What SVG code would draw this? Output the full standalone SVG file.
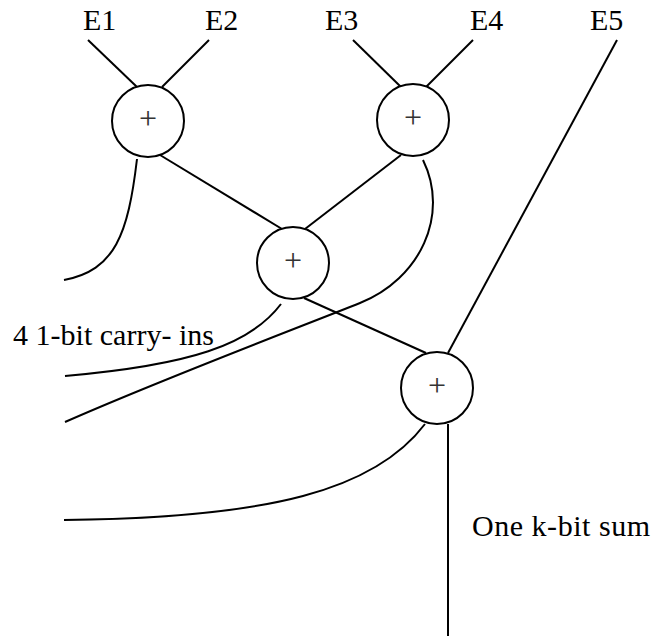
<svg xmlns="http://www.w3.org/2000/svg" width="651" height="640" viewBox="0 0 651 640">
  <style>
    .wire { fill: none; stroke: #000; stroke-width: 2; }
    .adder circle { fill: #fff; stroke: #000; stroke-width: 2; }
    .adder text { font-family: "Liberation Serif", "Times New Roman", serif; font-size: 32px; fill: #333; text-anchor: middle; }
    .label { font-family: "Liberation Serif", "Times New Roman", serif; font-size: 30px; fill: #000; }
  </style>
  <rect width="651" height="640" fill="#fff"/>

  <!-- connectors -->
  <g id="connectors">
    <!-- inputs -->
    <line class="wire" x1="88" y1="40" x2="137" y2="87"/>
    <line class="wire" x1="209" y1="40" x2="162" y2="87"/>
    <line class="wire" x1="353" y1="40" x2="401" y2="87"/>
    <line class="wire" x1="473" y1="40" x2="426" y2="87"/>
    <line class="wire" x1="617" y1="40" x2="448" y2="353"/>
    <!-- adder tree -->
    <line class="wire" x1="160" y1="155" x2="282" y2="229"/>
    <line class="wire" x1="401" y1="155" x2="305" y2="229"/>
    <line class="wire" x1="304" y1="298" x2="426" y2="353"/>
    <!-- carry-ins -->
    <path class="wire" d="M137,159 C128,235 115,270 64,280"/>
    <path class="wire" d="M281,304 C250,345 190,365 65,376"/>
    <path class="wire" d="M423,160 C450,215 420,279 360,303 C300,327 160,380 65,422"/>
    <path class="wire" d="M425,424 C375,490 270,518 64,520"/>
    <!-- sum output -->
    <line class="wire" x1="448" y1="424" x2="448" y2="636"/>
  </g>

  <!-- adders -->
  <g id="adder1" class="adder">
    <circle cx="148" cy="121" r="36"/>
    <text x="148" y="129">+</text>
  </g>
  <g id="adder2" class="adder">
    <circle cx="413" cy="120" r="36"/>
    <text x="413" y="128">+</text>
  </g>
  <g id="adder3" class="adder">
    <circle cx="293" cy="263" r="36"/>
    <text x="293" y="271">+</text>
  </g>
  <g id="adder4" class="adder">
    <circle cx="437" cy="388" r="36"/>
    <text x="437" y="396">+</text>
  </g>

  <!-- input labels -->
  <g id="inputs">
    <text class="label" x="83" y="30">E1</text>
    <text class="label" x="205" y="30">E2</text>
    <text class="label" x="325" y="30">E3</text>
    <text class="label" x="470" y="30">E4</text>
    <text class="label" x="590" y="30">E5</text>
  </g>

  <!-- annotations -->
  <text class="label" x="13" y="345" textLength="201" lengthAdjust="spacing">4 1-bit carry- ins</text>
  <text class="label" x="472" y="536" textLength="178" lengthAdjust="spacing">One k-bit sum</text>
</svg>
